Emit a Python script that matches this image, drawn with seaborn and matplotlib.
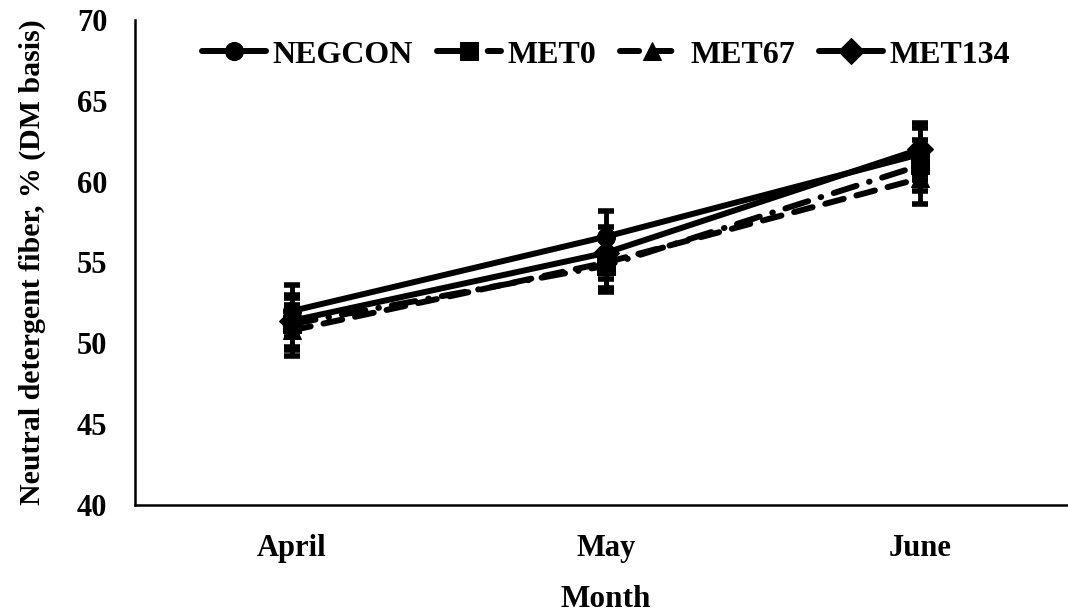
import matplotlib
matplotlib.use("Agg")
import matplotlib.pyplot as plt
import numpy as np
import pandas as pd
import seaborn as sns

months = ["April", "May", "June"]
treatments = ["NEGCON", "MET0", "MET67", "MET134"]
negcon = [52.0, 56.6, 61.7]
met0 = [51.2, 54.8, 61.0]
met67 = [50.8, 55.0, 60.2]
met134 = [51.4, 55.6, 62.0]
sem = [1.6, 1.6, 1.6]

series = {"NEGCON": negcon, "MET0": met0, "MET67": met67, "MET134": met134}
df = pd.DataFrame(
    [(m, t, v) for t in treatments for m, v in zip(months, series[t])],
    columns=["Month", "Treatment", "NDF"],
)
df["x"] = df["Month"].map({m: i for i, m in enumerate(months)})

sns.set_style("white")
plt.rcParams["font.family"] = ["Liberation Serif", "DejaVu Serif"]
plt.rcParams["font.weight"] = "bold"
for key in ["text.color", "axes.labelcolor", "xtick.color", "ytick.color"]:
    plt.rcParams[key] = "black"

fig = plt.figure(figsize=(10.68, 6.14), dpi=100)
ax = fig.add_axes([135 / 1068, 1 - 505 / 614, 942 / 1068, 485 / 614])

markers = {"NEGCON": "o", "MET0": "s", "MET67": "^", "MET134": "D"}
dashes = {
    "NEGCON": "",
    "MET0": (4, 2.2, 0.1, 2.2),
    "MET67": (3.2, 2.2),
    "MET134": "",
}

sns.lineplot(
    data=df, x="x", y="NDF", hue="Treatment", style="Treatment",
    hue_order=treatments, style_order=treatments,
    palette=["black"] * 4, markers=markers, dashes=dashes,
    linewidth=4.3, markersize=13, markeredgecolor="black",
    ax=ax, legend=True, sort=False,
)
for line in ax.lines:
    line.set_dash_capstyle("round")
    line.set_solid_capstyle("round")

for t in treatments:
    ax.errorbar(
        range(len(months)), series[t], yerr=sem,
        fmt="none", ecolor="black", elinewidth=3.5,
        capsize=6, capthick=4, zorder=1,
    )

ax.set_xlim(-0.5, 2.5)
ax.set_ylim(40, 70)
ax.set_yticks(range(40, 71, 5))
ax.set_xticks(range(len(months)))
ax.set_xticklabels(months)
ax.tick_params(axis="both", length=0, labelsize=22)
for lab in ax.get_xticklabels() + ax.get_yticklabels():
    lab.set_fontweight("bold")
ax.tick_params(axis="y", pad=20)
ax.tick_params(axis="x", pad=21)
ax.set_xlabel("Month", fontsize=22.5, fontweight="bold", labelpad=16)
ax.set_ylabel("Neutral detergent fiber, % (DM basis)", fontsize=21.5,
              fontweight="bold", labelpad=22)

for s in ["top", "right"]:
    ax.spines[s].set_visible(False)
for s in ["left", "bottom"]:
    ax.spines[s].set_color("black")
    ax.spines[s].set_linewidth(1.8)

handles, labels = ax.get_legend_handles_labels()
for h in handles:
    h.set_dash_capstyle("round")
    h.set_solid_capstyle("round")
ax.legend(
    handles, labels, loc="center", bbox_to_anchor=(0.5, 1 - 35 / 485),
    ncol=4, frameon=False, handlelength=2.0, handletextpad=0.2,
    columnspacing=0.75, borderpad=0,
    prop={"family": "Liberation Serif", "weight": "bold", "size": 23},
)

fig.savefig("out.png", dpi=100)
